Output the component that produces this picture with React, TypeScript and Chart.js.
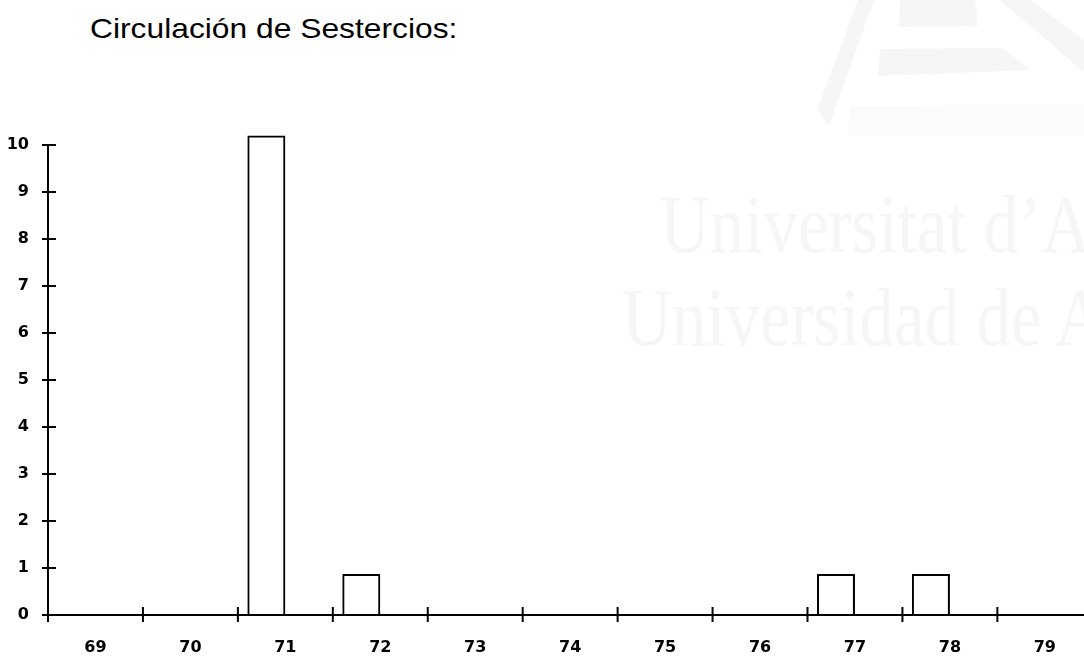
import React, { useEffect, useRef } from "react";
import { Chart, registerables } from "chart.js";

Chart.register(...registerables);

const categories = ["69", "70", "71", "72", "73", "74", "75", "76", "77", "78", "79"];
const coinCounts = [0, 0, 10.2, 0.87, 0, 0, 0, 0, 0.87, 0.87, 0];
const spacer = [null, null, null, null, null, null, null, null, null, null, null];
const yTicks = [0, 1, 2, 3, 4, 5, 6, 7, 8, 9, 10];
const titleText = "Circulación de Sestercios:";
const watermarkLines = ["Universitat d\u2019A", "Universidad de A"];

const crossTicks = {
  id: "crossTicks",
  afterDraw(chart: any) {
    const ctx = chart.ctx;
    const area = chart.chartArea;
    const x = chart.scales.x;
    const y = chart.scales.y;
    ctx.save();
    ctx.strokeStyle = "#000";
    ctx.lineWidth = 2;
    ctx.beginPath();
    y.ticks.forEach((t: any) => {
      const py = y.getPixelForValue(t.value);
      ctx.moveTo(area.left - 6, py);
      ctx.lineTo(area.left + 8, py);
    });
    const half = (x.getPixelForValue(1) - x.getPixelForValue(0)) / 2;
    for (let i = 0; i < categories.length; i++) {
      const bx = x.getPixelForValue(i) - half;
      ctx.moveTo(bx, area.bottom - 8);
      ctx.lineTo(bx, area.bottom + 7);
    }
    ctx.stroke();
    ctx.restore();
  },
};

function ChartCanvas() {
  const ref = useRef<HTMLCanvasElement>(null);
  useEffect(() => {
    if (!ref.current) return;
    const tickFont = { family: "'DejaVu Sans', sans-serif", size: 16, weight: "bold" as const };
    const chart = new Chart(ref.current, {
      type: "bar",
      data: {
        labels: categories,
        datasets: [
          {
            data: coinCounts,
            backgroundColor: "rgba(255,255,255,0)",
            borderColor: "#000",
            borderWidth: 2,
            clip: false as any,
          },
          {
            data: spacer as any,
            backgroundColor: "rgba(0,0,0,0)",
            borderWidth: 0,
          },
        ],
      },
      options: {
        animation: false,
        responsive: false,
        maintainAspectRatio: false,
        categoryPercentage: 0.8,
        barPercentage: 1,
        layout: { padding: { top: 145, right: 7.7, bottom: 0, left: 0 } },
        plugins: {
          legend: { display: false },
          tooltip: { enabled: false },
          title: { display: false },
        },
        scales: {
          x: {
            type: "category",
            offset: true,
            grid: { display: false, drawTicks: false },
            border: { display: true, color: "#000", width: 2 },
            ticks: {
              color: "#000",
              padding: 23,
              font: tickFont,
              maxRotation: 0,
              autoSkip: false,
            },
            afterFit: (s: any) => {
              s.height = 43;
            },
          },
          y: {
            type: "linear",
            min: 0,
            max: 10,
            afterBuildTicks: (s: any) => {
              s.ticks = yTicks.map((v) => ({ value: v }));
            },
            grid: { display: false, drawTicks: false },
            border: { display: true, color: "#000", width: 2 },
            ticks: {
              color: "#000",
              padding: 19,
              font: tickFont,
            },
            afterFit: (s: any) => {
              s.width = 48;
            },
          },
        },
      },
      plugins: [crossTicks],
    });
    return () => chart.destroy();
  }, []);
  return (
    <canvas
      ref={ref}
      width={1100}
      height={658}
      style={{ position: "absolute", left: 0, top: 0, width: 1100, height: 658 }}
    />
  );
}

export default function App() {
  return (
    <div
      style={{
        position: "fixed",
        left: 0,
        top: 0,
        width: 1084,
        height: 658,
        overflow: "hidden",
        background: "#fff",
      }}
    >
      <svg width={1084} height={658} style={{ position: "absolute", left: 0, top: 0 }}>
        <g fill="#f6f6f6">
          <polygon points="817,110 858,0 874,0 829,126" />
          <polygon points="900,0 975,0 978,26 899,27" />
          <polygon points="880,49 1002,48 1030,70 878,76" />
          <polygon points="1000,0 1030,0 1084,40 1084,72" />
        </g>
        <polygon points="850,106 1084,104 1084,135 848,135" fill="#fbfbfb" />
        <g fill="#f6f6f6" fontFamily="'Liberation Serif', 'Times New Roman', serif">
          <text transform="translate(660,252) scale(1,1.2)" fontSize={69}>
            {watermarkLines[0]}
          </text>
          <text transform="translate(622,345) scale(1,1.2)" fontSize={69}>
            {watermarkLines[1]}
          </text>
        </g>
      </svg>
      <div
        style={{
          position: "absolute",
          left: 90,
          top: 15,
          fontFamily: "'Liberation Sans', Arial, sans-serif",
          fontSize: 28,
          lineHeight: "28px",
          color: "#000",
          whiteSpace: "nowrap",
          transform: "scaleX(1.135)",
          transformOrigin: "left top",
        }}
      >
        {titleText}
      </div>
      <ChartCanvas />
    </div>
  );
}
